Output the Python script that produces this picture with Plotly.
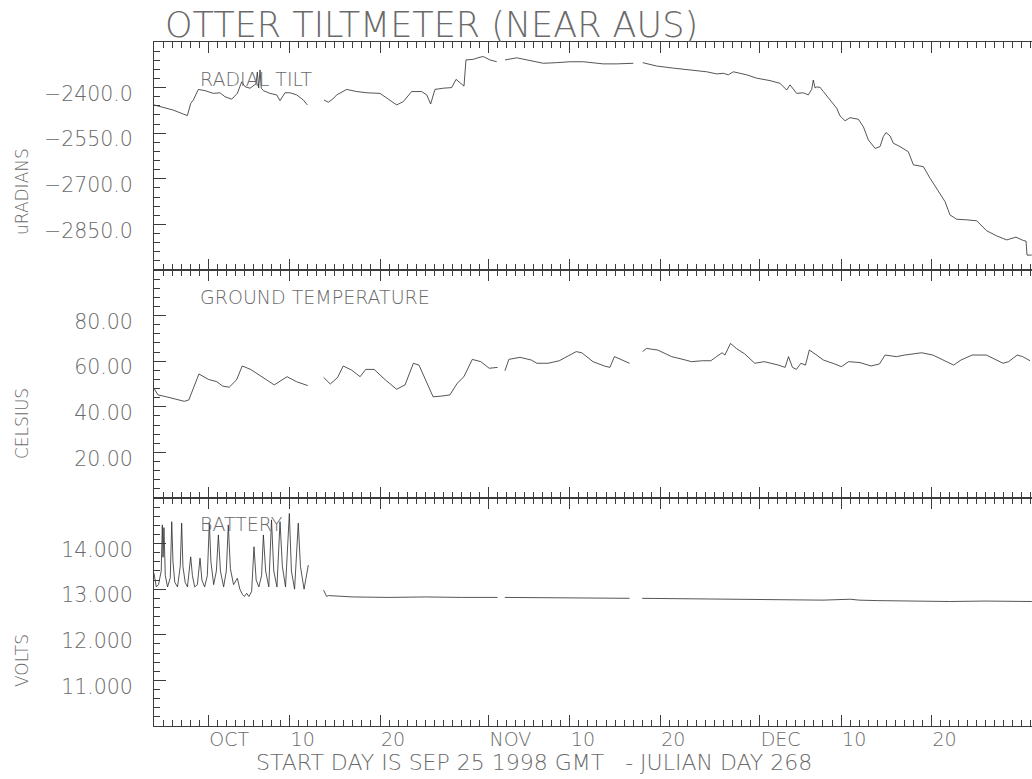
import numpy as np
import pandas as pd
import plotly.graph_objects as go

# ---------------------------------------------------------------- data
YEAR_ORIGIN = pd.Timestamp("1998-01-01")
START = pd.Timestamp("1998-09-25")      # julian day 268
SPAN_DAYS = 97.12

# Radial tilt, microradians (julian day, value); None marks a data gap
tilt_jday = [
    268.00, 269.03, 270.14, 271.24, 271.69, 272.06, 272.35, 272.90, 273.64, 274.56,
    275.30, 275.85, 276.59, 277.22, 277.70, 278.07, 278.62, 279.28, 279.43, 279.58,
    279.73, 279.87, 280.10, 280.83, 281.57, 281.94, 282.49, 283.04, 283.78, 284.52,
    284.96, 285.90, 286.81, 287.28, 287.77, 288.21, 289.32, 290.42, 291.53, 293.00,
    293.92, 294.85, 295.58, 296.50, 297.61, 298.17, 298.60, 299.08, 300.00, 300.93,
    301.41, 301.85, 302.29, 302.51, 303.32, 304.06, 304.43, 305.17, 305.91, 306.40,
    306.83, 308.12, 309.59, 311.06, 312.54, 314.02, 315.49, 316.97, 317.70, 319.18,
    321.02, 321.50, 322.06, 323.60, 325.45, 327.29, 329.14, 330.24, 330.98, 331.53,
    332.08, 333.56, 334.67, 336.14, 337.25, 337.99, 338.35, 339.09, 339.83, 340.38,
    340.75, 340.93, 341.12, 341.30, 341.67, 342.04, 342.78, 343.52, 343.88, 344.44,
    344.99, 345.91, 346.47, 347.02, 347.76, 348.31, 348.68, 348.97, 349.42, 349.78,
    350.52, 351.44, 352.00, 353.10, 353.84, 354.76, 355.50, 356.05, 356.79, 357.90,
    359.00, 360.11, 361.22, 362.32, 363.35, 364.16, 364.46, 364.57, 365.09,
]
tilt_val = [
    -2457, -2465, -2474, -2487, -2492, -2452, -2441, -2406, -2410, -2419,
    -2417, -2430, -2438, -2419, -2381, -2397, -2402, -2388, -2349, -2401,
    -2342, -2402, -2410, -2419, -2424, -2443, -2417, -2417, -2424, -2441,
    -2457, None, -2441, -2448, -2438, -2424, -2406, -2413, -2417, -2419,
    -2438, -2457, -2446, -2413, -2413, -2424, -2454, -2406, -2402, -2400,
    -2373, -2384, -2395, -2309, -2307, -2300, -2298, -2309, -2315, None,
    -2309, -2302, -2311, -2320, -2318, -2315, -2315, -2320, -2322, -2322,
    -2320, None, -2318, -2329, -2336, -2342, -2348, -2355, -2353, -2358,
    -2348, -2358, -2369, -2377, -2386, -2408, -2391, -2419, -2417, -2424,
    -2406, -2375, -2401, -2398, -2399, -2413, -2441, -2468, -2493, -2509,
    -2499, -2504, -2529, -2572, -2600, -2594, -2561, -2548, -2559, -2583,
    -2594, -2611, -2654, -2660, -2698, -2742, -2775, -2819, -2833, -2835,
    -2838, -2871, -2888, -2901, -2892, -2903, -2905, -2951, -2951,
]

# Ground temperature, Celsius
temp_jday = [
    268.00, 268.44, 269.37, 270.61, 271.35, 271.85, 272.97, 274.03, 274.96, 275.58,
    276.32, 277.13, 277.76, 278.69, 279.92, 281.30, 282.72, 283.77, 285.01, 285.90,
    286.76, 287.50, 288.31, 288.93, 289.86, 290.80, 291.42, 292.35, 293.59, 294.84,
    295.77, 296.69, 297.31, 298.07, 298.87, 299.80, 300.73, 301.54, 302.28, 303.21,
    304.15, 305.08, 306.01, 306.40, 306.82, 307.25, 308.49, 309.74, 310.36, 311.60,
    312.83, 314.70, 315.32, 316.56, 317.81, 318.43, 318.93, 319.67, 320.60, 321.50,
    322.04, 322.47, 323.71, 325.26, 326.51, 327.44, 328.67, 329.60, 330.22, 330.84,
    331.15, 331.77, 332.41, 333.34, 334.45, 335.51, 337.07, 337.81, 338.19, 338.62,
    339.06, 339.56, 340.06, 340.49, 341.12, 342.05, 343.29, 344.03, 344.84, 346.09,
    347.32, 348.25, 348.87, 350.11, 351.05, 352.91, 354.15, 355.71, 356.45, 357.26,
    358.50, 360.06, 360.99, 361.92, 362.54, 363.48, 364.09, 364.90,
]
temp_val = [
    48.1, 45.2, 44.4, 43.3, 42.4, 43.0, 54.4, 52.0, 51.0, 49.1,
    48.6, 51.8, 57.9, 56.4, 53.2, 49.6, 53.2, 51.0, 49.3, None,
    52.9, 50.0, 52.9, 57.9, 56.1, 53.2, 56.4, 56.4, 51.8, 47.7,
    49.6, 59.1, 58.3, 51.8, 44.4, 44.7, 45.2, 50.3, 53.2, 60.8,
    59.8, 56.9, 57.3, None, 55.8, 60.8, 61.7, 60.5, 59.1, 59.1,
    60.2, 64.2, 63.7, 59.8, 57.9, 57.3, 62.0, 60.8, 59.1, None,
    64.2, 65.6, 64.9, 62.0, 60.8, 59.8, 60.2, 60.2, 62.0, 63.7,
    62.7, 67.8, 65.6, 63.2, 59.1, 59.8, 58.3, 57.3, 62.0, 57.3,
    56.4, 59.1, 58.3, 64.9, 63.2, 60.5, 58.8, 57.6, 59.8, 59.4,
    57.9, 58.8, 62.7, 62.0, 62.7, 63.7, 62.7, 59.8, 58.3, 60.5,
    62.7, 62.7, 60.8, 59.1, 59.8, 62.7, 62.0, 60.2,
]

# Battery, volts
batt_jday = [
    268.00, 268.25, 268.50, 268.80, 268.92, 269.00, 269.10, 269.25, 269.50, 269.80,
    269.96, 270.10, 270.30, 270.60, 270.90, 271.06, 271.20, 271.45, 271.70, 272.06,
    272.25, 272.50, 272.80, 273.09, 273.30, 273.60, 273.90, 274.12, 274.30, 274.60,
    274.90, 275.12, 275.35, 275.70, 276.00, 276.22, 276.45, 276.80, 277.22, 277.50,
    277.80, 278.00, 278.25, 278.50, 278.80, 279.06, 279.30, 279.60, 279.90, 280.10,
    280.35, 280.70, 281.00, 281.25, 281.60, 281.94, 282.20, 282.55, 282.97, 283.20,
    283.55, 283.96, 284.20, 284.60, 285.07, 285.90,
    286.76, 287.10, 287.30, 290.00, 294.00, 298.00, 302.00, 306.00, 306.40,
    306.80, 312.00, 316.00, 320.60, 321.50,
    322.00, 326.00, 330.00, 334.00, 338.00, 342.00, 345.00, 346.00, 348.00,
    352.00, 356.00, 360.00, 364.00, 365.10,
]
batt_val = [
    13.35, 13.05, 13.10, 13.40, 14.41, 13.70, 14.35, 13.30, 13.05, 13.25,
    14.48, 13.60, 13.15, 13.05, 13.50, 14.45, 13.50, 13.15, 13.05, 13.71,
    13.30, 13.05, 13.10, 13.68, 13.20, 13.05, 13.30, 14.45, 13.60, 13.10,
    13.40, 14.19, 13.40, 13.05, 13.40, 14.41, 13.45, 13.10, 13.24, 13.00,
    12.88, 12.84, 12.91, 12.84, 12.95, 13.93, 13.20, 13.05, 13.30, 14.19,
    13.40, 13.05, 14.52, 13.40, 13.05, 14.48, 13.50, 13.05, 14.66, 13.40,
    13.00, 14.45, 13.50, 13.00, 13.53, None,
    12.98, 12.84, 12.86, 12.83, 12.82, 12.83, 12.82, 12.82, None,
    12.82, 12.81, 12.81, 12.80, None,
    12.80, 12.79, 12.78, 12.78, 12.77, 12.76, 12.78, 12.76, 12.75,
    12.74, 12.73, 12.74, 12.74, 12.73,
]

# Axis ticks
month_tick_dates = ["1998-10-01", "1998-10-10", "1998-10-20", "1998-11-01", "1998-11-10",
                    "1998-11-20", "1998-12-01", "1998-12-10", "1998-12-20"]
month_tick_text = ["OCT", "10", "20", "NOV", "10", "20", "DEC", "10", "20"]
tilt_ticks = [-2850, -2700, -2550, -2400]
temp_ticks = [20, 40, 60, 80]
batt_ticks = [11, 12, 13, 14]


def to_time(jdays):
    return YEAR_ORIGIN + pd.to_timedelta(np.asarray(jdays, dtype=float) - 1.0, unit="D")


# ---------------------------------------------------------------- style
FONT = "DejaVu Sans"
TEXT = "#6a6a6a"
LINE = "#3c3c3c"
DATA = "#2a2a2a"
W, H = 1032, 779
ML, MR, MT, MB = 154, 0, 42, 53
PW, PH = W - ML - MR, H - MT - MB


def px_x(p):
    return (p - ML) / PW


def px_y(p):
    return (H - MB - p) / PH


fig = go.Figure()
for jd, vals, ax in [(tilt_jday, tilt_val, ("x", "y")),
                     (temp_jday, temp_val, ("x2", "y2")),
                     (batt_jday, batt_val, ("x3", "y3"))]:
    fig.add_trace(go.Scatter(x=to_time(jd), y=vals, mode="lines",
                             line=dict(color=DATA, width=0.8), connectgaps=False,
                             xaxis=ax[0], yaxis=ax[1], hoverinfo="skip", showlegend=False))

x_range = [START, START + pd.Timedelta(days=SPAN_DAYS)]


def time_axis(labels, anchor):
    return dict(
        type="date", range=x_range, anchor=anchor,
        tickmode="array", tickvals=month_tick_dates, ticktext=month_tick_text,
        showticklabels=labels, ticklabelposition="outside right",
        ticklabelstandoff=-4,
        tickfont=dict(family=FONT, size=19, color=TEXT, weight=200),
        ticks="inside", ticklen=11, tickwidth=1, tickcolor=LINE,
        minor=dict(ticks="inside", ticklen=6, tickwidth=1, tickcolor=LINE,
                   tickmode="linear", tick0="1998-09-25", dtick=86400000, showgrid=False),
        showline=True, linecolor=LINE, linewidth=1, mirror="allticks",
        showgrid=False, zeroline=False,
    )


def value_axis(domain, rng, ticks, fmt, minor_step, anchor):
    return dict(
        domain=domain, range=rng, anchor=anchor,
        tickmode="array", tickvals=ticks, tickformat=fmt,
        tickfont=dict(family=FONT, size=20.5, color=TEXT, weight=200),
        ticklabelshift=6, ticklabelstandoff=16,
        ticks="inside", ticklen=12, tickwidth=1, tickcolor=LINE,
        minor=dict(ticks="inside", ticklen=6, tickwidth=1, tickcolor=LINE,
                   tickmode="linear", tick0=rng[0], dtick=minor_step, showgrid=False),
        showline=True, linecolor=LINE, linewidth=1, mirror=False,
        showgrid=False, zeroline=False,
    )


fig.update_layout(
    width=W, height=H,
    margin=dict(l=ML, r=MR, t=MT, b=MB, pad=0),
    paper_bgcolor="white", plot_bgcolor="white",
    xaxis=time_axis(False, "y"),
    xaxis2=time_axis(False, "y2"),
    xaxis3=time_axis(True, "y3"),
    yaxis=value_axis([2 / 3, 1], [-3000, -2250], tilt_ticks, ".1f", 30, "x"),
    yaxis2=value_axis([1 / 3, 2 / 3], [0, 100], temp_ticks, ".2f", 4, "x2"),
    yaxis3=value_axis([0, 1 / 3], [10, 15], batt_ticks, ".3f", 0.2, "x3"),
    showlegend=False,
)


def label(text, x, y, size, xanchor="left", angle=0):
    fig.add_annotation(text=text, xref="paper", yref="paper", x=px_x(x), y=px_y(y),
                       xanchor=xanchor, yanchor="middle", showarrow=False, textangle=angle,
                       font=dict(family=FONT, size=size, color=TEXT, weight=200))


label("OTTER TILTMETER (NEAR AUS)", 163, 25, 35)
label("RADIAL TILT", 198, 79, 19)
label("GROUND TEMPERATURE", 198, 297, 19)
label("BATTERY", 198, 524, 19)
label("uRADIANS", 22, 192, 17, "center", -90)
label("CELSIUS", 22, 424, 17, "center", -90)
label("VOLTS", 22, 661, 17, "center", -90)
label("START DAY IS SEP 25 1998 GMT \u00a0\u00a0- JULIAN DAY 268", 534, 762, 22, "center")

fig.write_html("out.html")
